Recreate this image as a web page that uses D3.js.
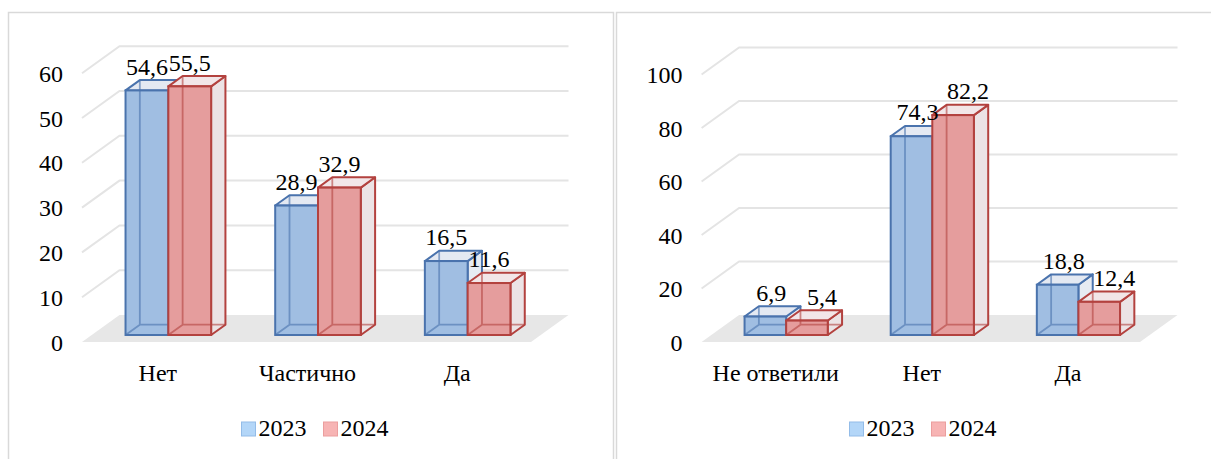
<!DOCTYPE html>
<html><head><meta charset="utf-8"><script src="https://cdn.jsdelivr.net/npm/d3@7"></script></head>
<body style="margin:0">
<svg id="chart" width="1211" height="459" style="font-family:'Liberation Serif', serif"></svg>
<script>
// ---------- data ----------
const seriesNames = ["2023", "2024"];

const leftCategories = ["Нет", "Частично", "Да"];
const left2023 = [54.6, 28.9, 16.5];
const left2024 = [55.5, 32.9, 11.6];
const leftTicks = [0, 10, 20, 30, 40, 50, 60];

const rightCategories = ["Не ответили", "Нет", "Да"];
const right2023 = [6.9, 74.3, 18.8];
const right2024 = [5.4, 82.2, 12.4];
const rightTicks = [0, 20, 40, 60, 80, 100];

// ---------- style ----------
const FS = 24;
const FF = "'Liberation Serif', serif";
const seriesStyle = [
  { front: "#98b8df", top: "#e4e9f2", side: "#e6ebf2", stroke: "#4a73ad", legFill: "#b3d6f8", legStroke: "#93bce8" },
  { front: "#e39595", top: "#f2e6e8", side: "#ece3e5", stroke: "#b3423f", legFill: "#f7b4b4", legStroke: "#eb9e9e" }
];
const fmt = d3.formatLocale({ decimal: ",", thousands: " ", grouping: [3], currency: ["", ""] }).format(".1f");

const svg = d3.select("#chart");

function txt(sel) {
  return sel.attr("font-family", FF).attr("font-size", FS)
    .style("font-family", FF).style("font-size", FS + "px").attr("fill", "#000");
}

function drawPanel(cfg) {
  const g = svg.append("g");
  g.append("rect")
    .attr("x", cfg.frameX + 0.5).attr("y", 12.5)
    .attr("width", cfg.frameW).attr("height", 470)
    .attr("fill", "#fff").attr("stroke", "#d9d9d9").attr("stroke-width", 1.5);

  const frontY = 342, backY = 315;
  const floorD = [37.5, frontY - backY];
  const x0 = cfg.x0, W = cfg.floorW;
  const x = d3.scaleBand().domain(cfg.categories).range([x0, x0 + W]);
  const h = d3.scaleLinear().domain([0, cfg.max]).range([0, cfg.pxMax]);

  // floor
  g.append("path")
    .attr("d", `M${x0},${frontY}L${x0 + W},${frontY}L${x0 + W + floorD[0]},${backY}L${x0 + floorD[0]},${backY}Z`)
    .attr("fill", "#e7e7e7");

  // gridlines (side wall + back wall)
  g.selectAll(".grid").data(cfg.ticks.filter(t => t > 0)).join("path")
    .attr("fill", "none").attr("stroke", "#e4e4e4").attr("stroke-width", 2)
    .attr("d", t => `M${x0},${frontY - h(t)}L${x0 + floorD[0]},${backY - h(t)}L${x0 + floorD[0] + W},${backY - h(t)}`);

  // tick labels
  txt(g.selectAll(".ytick").data(cfg.ticks).join("text"))
    .attr("x", x0 - 19).attr("y", t => frontY - h(t) + 8.5)
    .attr("text-anchor", "end")
    .text(t => t);

  // category labels
  txt(g.selectAll(".cat").data(cfg.categories).join("text"))
    .attr("x", c => x(c) + x.bandwidth() / 2 + 1).attr("y", 381)
    .attr("text-anchor", "middle")
    .text(c => c);

  // bars
  const bw = cfg.barW;
  const sub = d3.scaleBand().domain(seriesNames).range([0, 2 * bw]);
  const barFrontY = frontY - 7;
  const dd = [14.3, 10.3];
  const bars = [];
  cfg.categories.forEach((c, i) => {
    seriesNames.forEach((s, k) => {
      const v = cfg.values[k][i];
      const bx = x(c) + (x.bandwidth() - 2 * bw) / 2 + cfg.shiftX + sub(s);
      bars.push({ c, s, k, v, bx, top: barFrontY - h(v) });
    });
  });

  const barG = g.append("g");
  bars.forEach(b => {
    const st = seriesStyle[b.k];
    const L = b.bx, R = b.bx + bw, T = b.top, B = barFrontY;
    const Lb = L + dd[0], Rb = R + dd[0], Tb = T - dd[1], Bb = B - dd[1];
    const gb = barG.append("g");
    gb.append("path")
      .attr("d", `M${L},${B}L${L},${T}L${Lb},${Tb}L${Rb},${Tb}L${Rb},${Bb}L${R},${B}Z`)
      .attr("fill", "#fff");
    gb.append("path")
      .attr("d", `M${R},${B}L${R},${T}L${Rb},${Tb}L${Rb},${Bb}Z`)
      .attr("fill", st.side)
      .attr("stroke", st.stroke).attr("stroke-width", 2).attr("stroke-linejoin", "round");
    gb.append("path")
      .attr("d", `M${L},${T}L${R},${T}L${Rb},${Tb}L${Lb},${Tb}Z`)
      .attr("fill", st.top)
      .attr("stroke", st.stroke).attr("stroke-width", 2).attr("stroke-linejoin", "round");
    gb.append("rect")
      .attr("x", L).attr("y", T).attr("width", bw).attr("height", B - T)
      .attr("fill", st.front).attr("fill-opacity", 0.92);
    gb.append("path")
      .attr("d", `M${Lb},${Tb}L${Lb},${Bb}L${Rb},${Bb}M${L},${B}L${Lb},${Bb}`)
      .attr("fill", "none").attr("stroke", st.stroke).attr("stroke-width", 1.8).attr("stroke-opacity", 0.6);
    gb.append("rect")
      .attr("x", L).attr("y", T).attr("width", bw).attr("height", B - T)
      .attr("fill", "none")
      .attr("stroke", st.stroke).attr("stroke-width", 2);
  });

  // data labels
  txt(g.selectAll(".lbl").data(bars).join("text"))
    .attr("x", b => b.bx + bw / 2 + cfg.labelShift[b.k])
    .attr("y", b => b.top - dd[1] - 5.5)
    .attr("text-anchor", "middle")
    .text(b => fmt(b.v));

  // legend
  const lg = g.append("g").attr("transform", `translate(${cfg.frameX},0)`);
  seriesNames.forEach((s, k) => {
    const lx = 233 + k * 82;
    lg.append("rect").attr("x", lx + 0.5).attr("y", 422).attr("width", 14).attr("height", 14)
      .attr("fill", seriesStyle[k].legFill).attr("stroke", seriesStyle[k].legStroke).attr("stroke-width", 1);
    txt(lg.append("text")).attr("x", lx + 17.5).attr("y", 436).text(s);
  });
}

drawPanel({
  frameX: 8, frameW: 605,
  categories: leftCategories, values: [left2023, left2024], ticks: leftTicks,
  max: 60, pxMax: 268.8, x0: 82, floorW: 449, barW: 42.8, shiftX: 11.5,
  labelShift: [0, 0]
});
drawPanel({
  frameX: 616, frameW: 620,
  categories: rightCategories, values: [right2023, right2024], ticks: rightTicks,
  max: 100, pxMax: 267.5, x0: 701.6, floorW: 438.4, barW: 41.6, shiftX: 11.5,
  labelShift: [6, 15]
});
</script>
</body>
</html>
